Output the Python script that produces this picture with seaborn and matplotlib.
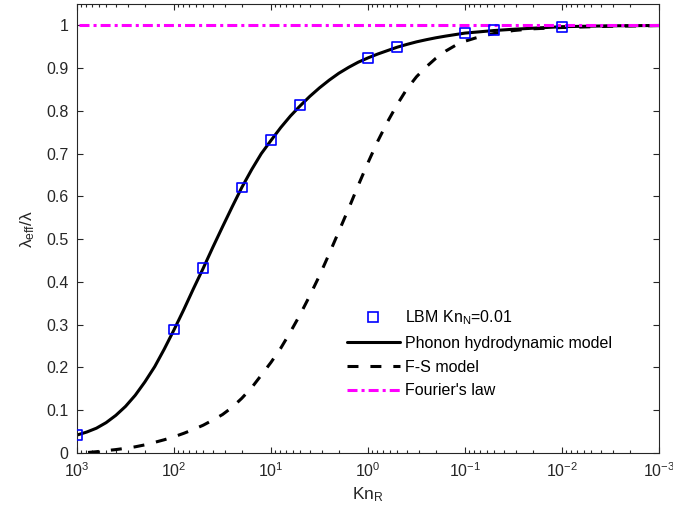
import numpy as np
import seaborn as sns
import matplotlib.pyplot as plt
from matplotlib.lines import Line2D
from matplotlib.ticker import FuncFormatter, LogLocator

# LBM simulation points (Kn_N = 0.01)
lbm_kn = [1000, 100, 50, 20, 10, 5, 1, 0.5, 0.1, 0.05, 0.01]
lbm_val = [0.042, 0.289, 0.432, 0.621, 0.732, 0.814, 0.924, 0.949, 0.983, 0.989, 0.997]

# phonon hydrodynamic model (~0.1 decade apart)
phd_kn = [1000, 794, 631, 501, 398, 316, 251, 200, 158, 126, 100, 79.4, 63.1, 50, 39.8, 31.6,
          25.1, 20, 15.8, 12.6, 10, 7.94, 6.31, 5, 3.98, 3.16, 2.51, 2.0, 1.58, 1.26, 1,
          0.794, 0.631, 0.5, 0.398, 0.316, 0.251, 0.2, 0.158, 0.126, 0.1, 0.05, 0.0316,
          0.01, 0.00316, 0.001]
phd_val = [0.042, 0.049, 0.058, 0.071, 0.088, 0.109, 0.135, 0.166, 0.202, 0.243, 0.288,
           0.335, 0.384, 0.432, 0.481, 0.529, 0.576, 0.621, 0.663, 0.700, 0.731, 0.761,
           0.788, 0.812, 0.834, 0.854, 0.872, 0.888, 0.902, 0.914, 0.924, 0.933, 0.941,
           0.949, 0.9555, 0.9615, 0.9665, 0.971, 0.975, 0.9785, 0.982, 0.988, 0.991,
           0.997, 0.999, 0.9998]

# F-S model
fs_kn = [851, 794, 631, 501, 398, 316, 251, 200, 158, 126, 100, 79.4, 63.1, 50, 39.8, 31.6,
         25.1, 20, 15.8, 12.6, 10, 7.94, 6.31, 5, 3.98, 3.16, 2.51, 2.0, 1.58, 1.26, 1,
         0.794, 0.631, 0.5, 0.398, 0.316, 0.251, 0.2, 0.158, 0.126, 0.1, 0.0794, 0.0631,
         0.05, 0.0316, 0.02, 0.01, 0.00316, 0.001]
fs_val = [0.0, 0.001, 0.003, 0.0055, 0.008, 0.011, 0.0145, 0.019, 0.025, 0.031, 0.038,
          0.046, 0.055, 0.065, 0.077, 0.090, 0.107, 0.128, 0.153, 0.182, 0.212, 0.245,
          0.283, 0.324, 0.368, 0.415, 0.466, 0.518, 0.572, 0.626, 0.679, 0.729, 0.774,
          0.815, 0.851, 0.880, 0.903, 0.923, 0.940, 0.953, 0.963, 0.970, 0.976, 0.981,
          0.988, 0.992, 0.995, 0.998, 0.9995]

# Fourier's law
fourier_kn = [1000, 0.001]
fourier_val = [1, 1]

sns.set_style('ticks')
plt.rcParams['font.family'] = ['Liberation Sans', 'DejaVu Sans']
plt.rcParams['mathtext.fontset'] = 'custom'
plt.rcParams['mathtext.rm'] = 'Liberation Sans'
plt.rcParams['mathtext.it'] = 'Liberation Sans:italic'
plt.rcParams['axes.unicode_minus'] = False
plt.rcParams['lines.scale_dashes'] = False

txt = '#262626'
fig = plt.figure(figsize=(6.73, 5.21), dpi=100)
ax = fig.add_axes([0.1144, 0.1305, 0.8648, 0.8618])

dash_fs = (0, (7.9, 8.6))
dash_fourier = (0, (7.2, 2.9, 2.2, 2.9))

sns.lineplot(x=phd_kn, y=phd_val, ax=ax, color='black', lw=2.2, zorder=2)
sns.lineplot(x=fs_kn, y=fs_val, ax=ax, color='black', lw=2.2, linestyle=dash_fs, zorder=2)
sns.lineplot(x=fourier_kn, y=fourier_val, ax=ax, color='#ff00ff', lw=2.2,
             linestyle=dash_fourier, zorder=3)
sns.scatterplot(x=lbm_kn, y=lbm_val, ax=ax, marker='s', s=50, facecolor='none',
                edgecolor='#0000ff', linewidth=1.2, zorder=4)

ax.set_xscale('log')
ax.set_xlim(1e3, 1e-3)
ax.set_ylim(0, 1.05)
ax.set_yticks(np.arange(0, 1.01, 0.1))
ax.yaxis.set_major_formatter(FuncFormatter(lambda v, p: '%g' % round(v, 2)))
ax.xaxis.set_major_locator(LogLocator(base=10, numticks=10))
ax.xaxis.set_minor_locator(LogLocator(base=10, subs=np.arange(2, 10), numticks=20))

ax.tick_params(which='both', direction='in', top=True, right=True, colors=txt,
               labelsize=11.5, width=0.8)
ax.tick_params(which='major', length=4.5, pad=6)
ax.tick_params(which='minor', length=2.5)
for s in ax.spines.values():
    s.set_color(txt)
    s.set_linewidth(0.8)

ax.set_xlabel(r'$\mathregular{Kn_R}$', fontsize=12.5, color=txt, labelpad=4)
ax.set_ylabel(r'$\mathregular{\lambda_{eff}/\lambda}$', fontsize=12.5, color=txt, labelpad=7)

handles = [
    Line2D([], [], marker='s', ls='none', mfc='none', mec='#0000ff', mew=1.2, ms=6.5),
    Line2D([], [], color='black', lw=2.2),
    Line2D([], [], color='black', lw=2.2, ls=dash_fs),
    Line2D([], [], color='#ff00ff', lw=2.2, ls=dash_fourier),
]
labels = [r'LBM $\mathregular{Kn_N}$=0.01', 'Phonon hydrodynamic model', 'F-S model', "Fourier's law"]
ax.legend(handles, labels, loc='center left', bbox_to_anchor=(0.464, 0.222), frameon=False,
          fontsize=11.5, handlelength=3.3, handletextpad=0.3, borderpad=0, borderaxespad=0,
          labelspacing=0.55, labelcolor='black')

fig.savefig('out.png', dpi=100)
